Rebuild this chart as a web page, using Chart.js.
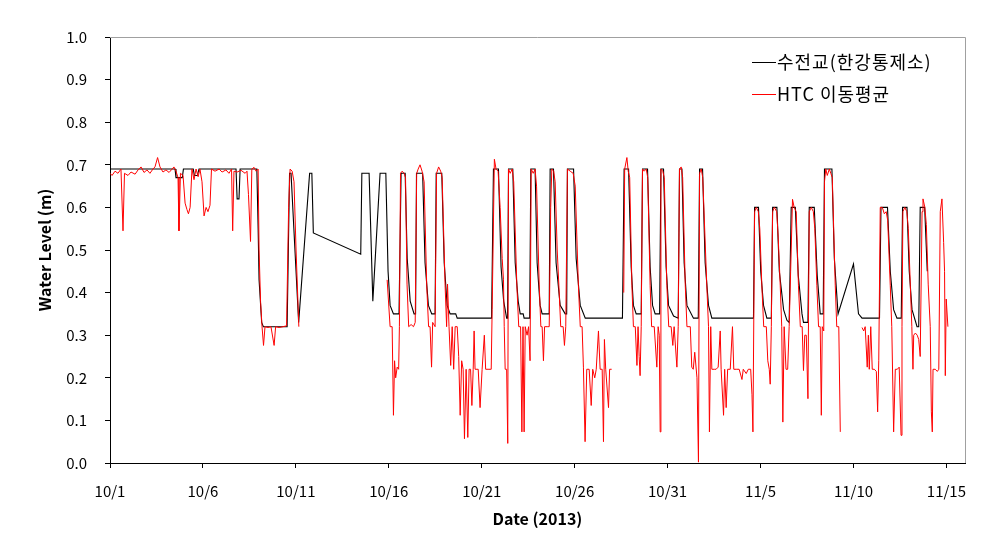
<!DOCTYPE html>
<html>
<head>
<meta charset="utf-8">
<script src="https://cdn.jsdelivr.net/npm/chart.js@4.4.0/dist/chart.umd.min.js"></script>
<style>
  html, body { margin: 0; padding: 0; background: #fff; }
</style>
</head>
<body>
<canvas id="levelChart" width="995" height="543"></canvas>
<script>
// Days since 10/1 00:00 (2013) and water level (m)
const xTickLabels = ['10/1', '10/6', '10/11', '10/16', '10/21', '10/26', '10/31', '11/5', '11/10', '11/15'];
const seriesNames = ['수전교(한강통제소)', 'HTC 이동평균'];

// 수전교(한강통제소)
const blackDay = [
  0.00, 3.50, 3.55, 3.89, 3.95, 4.48, 4.54, 4.70, 4.79, 6.78, 6.84, 6.94, 7.00, 7.90, 7.97, 8.02, 8.16, 8.25,
  9.53, 9.66, 9.74, 10.15, 10.74, 10.86, 10.94, 13.49, 13.55, 13.94, 14.14, 14.53, 14.84, 14.96, 15.07, 15.25,
  15.55, 15.66, 15.88, 15.99, 16.15, 16.36, 16.44, 16.49, 16.82, 16.95, 17.13, 17.31, 17.49, 17.55, 17.85, 17.98,
  18.14, 18.30, 18.60, 18.68, 20.53, 20.63, 20.90, 21.04, 21.18, 21.34, 21.39, 21.44, 21.67, 21.80, 21.96, 22.07,
  22.23, 22.28, 22.58, 22.64, 22.87, 22.98, 23.14, 23.25, 23.63, 23.68, 23.86, 24.00, 24.22, 24.49, 24.57, 24.61,
  24.94, 25.08, 25.30, 25.57, 27.57, 27.66, 27.90, 28.04, 28.16, 28.31, 28.58, 28.65, 28.92, 29.06, 29.19, 29.33,
  29.57, 29.64, 29.78, 29.92, 30.05, 30.32, 30.57, 30.64, 30.77, 30.89, 31.04, 31.39, 31.65, 31.72, 31.88, 32.02,
  32.20, 32.38, 34.62, 34.68, 34.89, 35.01, 35.16, 35.34, 35.58, 35.65, 35.88, 36.01, 36.24, 36.42, 36.54, 36.65,
  36.87, 37.03, 37.23, 37.31, 37.55, 37.62, 37.89, 38.05, 38.21, 38.37, 38.44, 38.84, 38.97, 39.17, 40.00, 40.27,
  40.46, 41.40, 41.48, 41.83, 41.98, 42.16, 42.34, 42.57, 42.64, 42.88, 43.00, 43.15, 43.42, 43.51, 43.59, 43.83,
  43.97
];
const blackLevel = [
  0.69, 0.69, 0.67, 0.67, 0.69, 0.69, 0.675, 0.675, 0.69, 0.69, 0.62, 0.62, 0.69, 0.69, 0.55, 0.43, 0.33, 0.32,
  0.32, 0.68, 0.68, 0.33, 0.68, 0.68, 0.54, 0.49, 0.68, 0.68, 0.38, 0.68, 0.68, 0.45, 0.37, 0.35,
  0.35, 0.68, 0.68, 0.48, 0.38, 0.35, 0.35, 0.68, 0.68, 0.47, 0.37, 0.35, 0.35, 0.68, 0.68, 0.47,
  0.37, 0.35, 0.35, 0.34, 0.34, 0.69, 0.69, 0.46, 0.38, 0.34, 0.34, 0.69, 0.69, 0.47, 0.38, 0.35,
  0.35, 0.34, 0.34, 0.69, 0.69, 0.47, 0.37, 0.35, 0.35, 0.69, 0.69, 0.47, 0.37, 0.35, 0.35, 0.69,
  0.69, 0.48, 0.37, 0.34, 0.34, 0.69, 0.69, 0.46, 0.37, 0.35, 0.35, 0.69, 0.69, 0.46, 0.37, 0.35,
  0.35, 0.69, 0.69, 0.46, 0.37, 0.345, 0.34, 0.69, 0.69, 0.47, 0.37, 0.34, 0.34, 0.69, 0.69, 0.47,
  0.37, 0.34, 0.34, 0.60, 0.60, 0.45, 0.37, 0.34, 0.34, 0.60, 0.60, 0.45, 0.36, 0.335, 0.33, 0.60,
  0.60, 0.44, 0.35, 0.33, 0.33, 0.60, 0.60, 0.44, 0.35, 0.35, 0.69, 0.69, 0.48, 0.35, 0.467, 0.35,
  0.34, 0.34, 0.60, 0.60, 0.45, 0.36, 0.34, 0.34, 0.60, 0.60, 0.45, 0.36, 0.32, 0.32, 0.60, 0.60,
  0.45
];

// HTC 이동평균 (null = no data)
const redDay = [
  0.00, 0.11, 0.27, 0.43, 0.59, 0.70, 0.78, 0.97, 1.13, 1.35, 1.51, 1.67, 1.83, 1.99, 2.15, 2.31, 2.42, 2.56,
  2.69, 2.85, 3.01, 3.18, 3.34, 3.44, 3.55, 3.66, 3.71, 3.79, 3.93, 4.04, 4.14, 4.22, 4.31, 4.41, 4.52, 4.63,
  4.74, 4.84, 4.95, 5.06, 5.17, 5.27, 5.38, 5.46, 5.65, 5.87, 6.03, 6.24, 6.40, 6.54, 6.60, 6.67, 6.84, 7.05,
  7.27, 7.37, 7.45, 7.56, 7.63, 7.75, 7.86, 7.97, 8.02, 8.10, 8.18, 8.26, 8.34, 8.50, 8.66, 8.83, 8.91, 9.10,
  9.31, 9.50, 9.61, 9.69, 9.80, 9.90, 10.01, 10.16, 12.50,
  14.91, 15.07, 15.18, 15.25, 15.31, 15.37, 15.45, 15.53, 15.57, 15.63, 15.72, 15.82, 15.90, 15.98, 16.07, 16.20,
  16.33, 16.42, 16.50, 16.58, 16.68, 16.79, 16.90, 17.04, 17.14, 17.22, 17.30, 17.36, 17.49, 17.57, 17.68, 17.79,
  17.87, 18.03, 18.11, 18.16, 18.24, 18.33, 18.41, 18.49, 18.57, 18.68, 18.76, 18.84, 18.92, 19.00, 19.07, 19.16,
  19.25, 19.32, 19.40, 19.47, 19.54, 19.59, 19.64, 19.81, 19.91, 20.02, 20.14, 20.21, 20.34, 20.51, 20.56, 20.68,
  20.77, 20.88, 20.99, 21.10, 21.17, 21.21, 21.26, 21.34, 21.40, 21.44, 21.53, 21.64, 21.72, 21.89, 21.99, 22.09,
  22.16, 22.22, 22.28, 22.34, 22.44, 22.52, 22.60, 22.66, 22.77, 22.87, 22.95, 23.09, 23.18, 23.25, 23.32, 23.38,
  23.52, 23.63, 23.71, 23.77, 23.87, 23.95, 24.06, 24.15, 24.25, 24.38, 24.45, 24.52, 24.61, 24.76, 24.92, 25.03,
  25.20, 25.30, 25.40, 25.47, 25.56, 25.65, 25.78, 25.89, 25.97, 26.08, 26.16, 26.28, 26.37, 26.48, 26.55, 26.60,
  26.67, 26.82, 26.88, 26.99, 27.30,
  27.64, 27.69, 27.81, 27.88, 27.96, 28.08, 28.16, 28.26, 28.35, 28.41, 28.47, 28.52, 28.58, 28.65, 28.74, 28.85,
  28.93, 29.06, 29.14, 29.28, 29.42, 29.49, 29.55, 29.60, 29.64, 29.74, 29.82, 29.96, 30.06, 30.19, 30.28, 30.35,
  30.50, 30.57, 30.64, 30.73, 30.81, 30.95, 31.04, 31.22, 31.30, 31.38, 31.46, 31.58, 31.66, 31.72, 31.81, 31.89,
  32.11, 32.20, 32.25, 32.32, 32.38, 32.51, 32.61, 32.72, 32.83, 32.88, 33.01, 33.07, 33.15, 33.23, 33.37, 33.49,
  33.56, 33.69, 33.85, 34.00, 34.07, 34.23, 34.34, 34.47, 34.54, 34.59, 34.68, 34.77, 34.88, 34.96, 35.07, 35.17,
  35.31, 35.39, 35.47, 35.52, 35.58, 35.65, 35.74, 35.87, 35.95, 36.06, 36.14, 36.20, 36.27, 36.37, 36.46, 36.54,
  36.62, 36.72, 36.81, 36.92, 37.04, 37.14, 37.24, 37.31, 37.38, 37.46, 37.55, 37.62, 37.73, 37.84, 37.92, 38.03,
  38.12, 38.21, 38.27, 38.32, 38.40, 38.44, 38.51, 38.59, 38.70, 38.78, 38.86, 39.02, 39.10, 39.21, 39.29, 39.80,
  40.46, 40.55, 40.63, 40.74, 40.80, 40.85, 40.93, 41.01, 41.12, 41.23, 41.30, 41.36, 41.44, 41.55, 41.66, 41.76,
  41.84, 41.98, 42.06, 42.16, 42.25, 42.36, 42.46, 42.56, 42.61, 42.66, 42.76, 42.87, 42.95, 43.06, 43.14, 43.20,
  43.24, 43.33, 43.43, 43.51, 43.59, 43.69, 43.74, 43.84, 43.92, 44.02, 44.13, 44.19, 44.24, 44.28, 44.40, 44.51,
  44.59, 44.67, 44.76, 44.85, 44.90, 44.94, 44.99, 45.08
];
const redLevel = [
  0.68, 0.675, 0.685, 0.68, 0.69, 0.545, 0.68, 0.675, 0.683, 0.678, 0.688, 0.695, 0.682, 0.688, 0.68, 0.69, 0.695, 0.717,
  0.695, 0.683, 0.688, 0.682, 0.69, 0.695, 0.685, 0.67, 0.545, 0.68, 0.675, 0.61, 0.595, 0.585, 0.60, 0.69, 0.665, 0.69,
  0.672, 0.69, 0.66, 0.58, 0.60, 0.59, 0.605, 0.69, 0.685, 0.69, 0.683, 0.688, 0.68, 0.69, 0.545, 0.685, 0.683, 0.687,
  0.68, 0.685, 0.63, 0.52, 0.69, 0.694, 0.685, 0.69, 0.50, 0.38, 0.32, 0.276, 0.32, 0.318, 0.32, 0.276, 0.32, 0.318,
  0.32, 0.322, 0.60, 0.69, 0.685, 0.66, 0.50, 0.32, null,
  0.43, 0.32, 0.32, 0.112, 0.24, 0.20, 0.225, 0.22, 0.32, 0.68, 0.685, 0.68, 0.67, 0.42, 0.32, 0.325,
  0.32, 0.33, 0.68, 0.69, 0.70, 0.685, 0.66, 0.416, 0.32, 0.32, 0.225, 0.33, 0.32, 0.68, 0.695, 0.685,
  0.67, 0.416, 0.32, 0.42, 0.32, 0.229, 0.32, 0.22, 0.32, 0.32, 0.25, 0.112, 0.24, 0.22, 0.057, 0.22,
  0.06, 0.22, 0.22, 0.135, 0.22, 0.31, 0.22, 0.22, 0.13, 0.22, 0.30, 0.22, 0.22, 0.22, 0.36, 0.713,
  0.69, 0.685, 0.60, 0.48, 0.43, 0.32, 0.22, 0.22, 0.046, 0.69, 0.68, 0.69, 0.66, 0.416, 0.32, 0.32,
  0.073, 0.32, 0.073, 0.32, 0.30, 0.32, 0.24, 0.69, 0.68, 0.69, 0.65, 0.42, 0.32, 0.32, 0.24, 0.32,
  0.32, 0.32, 0.60, 0.69, 0.685, 0.66, 0.50, 0.416, 0.32, 0.32, 0.276, 0.32, 0.69, 0.685, 0.68, 0.65,
  0.416, 0.32, 0.32, 0.225, 0.05, 0.22, 0.22, 0.135, 0.22, 0.20, 0.22, 0.31, 0.22, 0.22, 0.05, 0.29,
  0.22, 0.13, 0.22, 0.22, null,
  0.40, 0.69, 0.717, 0.685, 0.67, 0.416, 0.32, 0.32, 0.229, 0.32, 0.25, 0.205, 0.32, 0.69, 0.685, 0.69,
  0.67, 0.416, 0.32, 0.32, 0.225, 0.32, 0.30, 0.073, 0.69, 0.685, 0.67, 0.416, 0.32, 0.32, 0.276, 0.32,
  0.225, 0.32, 0.69, 0.695, 0.67, 0.416, 0.32, 0.32, 0.225, 0.22, 0.26, 0.20, 0.002, 0.68, 0.69, 0.67,
  0.416, 0.32, 0.073, 0.32, 0.22, 0.22, 0.22, 0.225, 0.31, 0.22, 0.112, 0.22, 0.13, 0.22, 0.22, 0.32,
  0.22, 0.22, 0.22, 0.196, 0.22, 0.21, 0.22, 0.22, 0.16, 0.073, 0.59, 0.60, 0.59, 0.55, 0.416, 0.32,
  0.32, 0.24, 0.22, 0.185, 0.32, 0.59, 0.60, 0.59, 0.53, 0.416, 0.32, 0.096, 0.32, 0.22, 0.22, 0.32,
  0.45, 0.619, 0.60, 0.59, 0.416, 0.32, 0.32, 0.217, 0.30, 0.30, 0.151, 0.59, 0.60, 0.59, 0.55, 0.416,
  0.32, 0.32, 0.112, 0.32, 0.31, 0.66, 0.69, 0.675, 0.69, 0.68, 0.67, 0.416, 0.32, 0.32, 0.073, null,
  0.318, 0.31, 0.32, 0.225, 0.30, 0.22, 0.32, 0.22, 0.22, 0.215, 0.12, 0.24, 0.60, 0.60, 0.585, 0.59,
  0.57, 0.416, 0.32, 0.073, 0.22, 0.22, 0.225, 0.065, 0.32, 0.59, 0.60, 0.59, 0.55, 0.416, 0.32, 0.22,
  0.30, 0.305, 0.30, 0.29, 0.25, 0.59, 0.62, 0.60, 0.56, 0.42, 0.32, 0.12, 0.073, 0.22, 0.22, 0.215,
  0.22, 0.59, 0.62, 0.518, 0.45, 0.205, 0.385, 0.32
];

const toPoints = (days, levels) => days.map((d, i) => ({ x: d, y: levels[i] }));

const baseFont = '"Noto Sans CJK KR", "Noto Sans", sans-serif';

// legend drawn in the upper right corner of the plot
const cornerLegend = {
  id: 'cornerLegend',
  afterDraw(chart) {
    const ctx = chart.ctx;
    ctx.save();
    ctx.font = '18px ' + baseFont;
    ctx.letterSpacing = '1px';
    ctx.textBaseline = 'middle';
    ctx.fillStyle = '#000';
    const rows = [chart.data.datasets[1], chart.data.datasets[0]];
    rows.forEach((ds, i) => {
      const y = 62 + i * 32;
      ctx.strokeStyle = ds.borderColor;
      ctx.lineWidth = 1;
      ctx.beginPath();
      ctx.moveTo(752, y + 0.5);
      ctx.lineTo(776, y + 0.5);
      ctx.stroke();
      ctx.fillText(ds.label, 777, y);
    });
    ctx.restore();
  }
};

// light frame on top and right of plot area
const plotFrame = {
  id: 'plotFrame',
  beforeDatasetsDraw(chart) {
    const { ctx, chartArea: a } = chart;
    ctx.save();
    ctx.strokeStyle = '#a0a0a0';
    ctx.lineWidth = 1;
    ctx.beginPath();
    ctx.moveTo(a.left, a.top + 0.5);
    ctx.lineTo(a.right + 0.5, a.top + 0.5);
    ctx.lineTo(a.right + 0.5, a.bottom);
    ctx.stroke();
    ctx.restore();
  }
};

const ctx = document.getElementById('levelChart').getContext('2d');
const levelChart = new Chart(ctx, {
  type: 'line',
  data: {
    datasets: [
      {
        label: seriesNames[1],
        data: toPoints(redDay, redLevel),
        borderColor: '#ff0000',
        borderWidth: 1,
        pointRadius: 0,
        tension: 0,
        spanGaps: false,
        order: 0
      },
      {
        label: seriesNames[0],
        data: toPoints(blackDay, blackLevel),
        borderColor: '#000000',
        borderWidth: 1.1,
        pointRadius: 0,
        tension: 0,
        order: 1
      }
    ]
  },
  options: {
    responsive: false,
    animation: false,
    layout: { padding: { top: 37, right: 30, left: 0, bottom: 0 } },
    plugins: { legend: { display: false }, tooltip: { enabled: false } },
    scales: {
      x: {
        type: 'linear',
        min: 0,
        max: 46,
        grid: { drawOnChartArea: false, drawTicks: true, tickLength: 5, color: '#000' },
        border: { display: true, color: '#000', width: 1 },
        ticks: {
          stepSize: 5,
          includeBounds: false,
          autoSkip: false,
          maxRotation: 0,
          padding: 14,
          color: '#000',
          font: { family: baseFont, size: 15 },
          callback: (v) => xTickLabels[Math.round(v / 5)]
        },
        title: {
          display: true,
          text: 'Date (2013)',
          color: '#000',
          font: { family: baseFont, size: 16, weight: 'bold' },
          padding: { top: 0, bottom: 14 }
        },
        afterFit: (s) => { s.height = 80; }
      },
      y: {
        min: 0,
        max: 1,
        grid: { drawOnChartArea: false, drawTicks: true, tickLength: 5, color: '#000' },
        border: { display: true, color: '#000', width: 1 },
        ticks: {
          stepSize: 0.1,
          padding: 18,
          color: '#000',
          font: { family: baseFont, size: 15 },
          callback: (v) => v.toFixed(1)
        },
        title: {
          display: true,
          text: 'Water Level (m)',
          color: '#000',
          font: { family: baseFont, size: 16, weight: 'bold' },
          padding: { top: 35, bottom: 0 }
        },
        afterFit: (s) => { s.width = 110; }
      }
    }
  },
  plugins: [plotFrame, cornerLegend]
});
</script>
</body>
</html>
